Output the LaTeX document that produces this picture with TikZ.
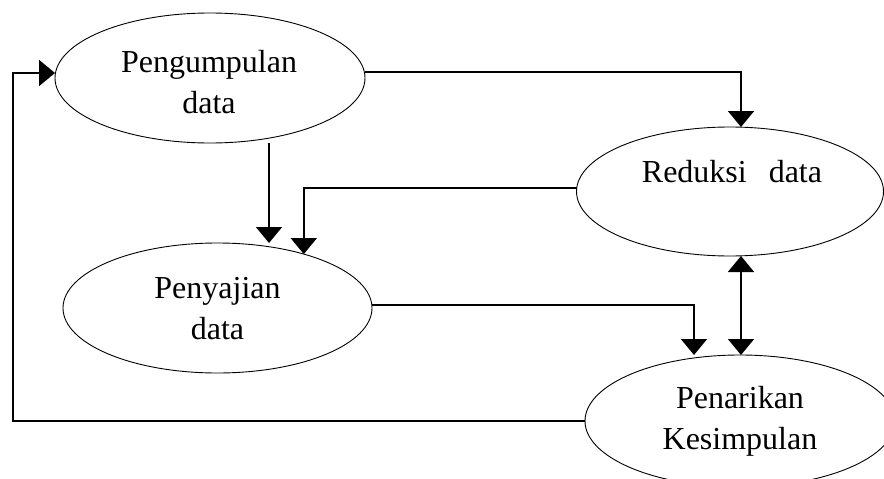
\documentclass[tikz,border=0pt]{standalone}
\usepackage{fontspec}
\setmainfont{Liberation Serif}
\usetikzlibrary{shapes.geometric,arrows.meta}
\begin{document}
\begin{tikzpicture}[x=1pt,y=-1pt,
  ell/.style={draw, ellipse, line width=0.9pt, inner sep=0pt, outer sep=0pt},
  lbl/.style={align=center, inner sep=0pt, font=\fontsize{32}{41}\selectfont},
  conn/.style={line width=1.8pt},
  arr/.style={conn, -{Triangle[width=26pt,length=16pt]}},
  darr/.style={conn, {Triangle[width=26pt,length=16pt]}-{Triangle[width=26pt,length=16pt]}}]
\useasboundingbox (0,0) rectangle (884,479);
\clip (0,0) rectangle (884,479);
% ellipses
\node[ell, minimum width=310pt, minimum height=130pt] (pg) at (210,78) {};
\node[ell, minimum width=307pt, minimum height=129pt] (red) at (730,191.5) {};
\node[ell, minimum width=309pt, minimum height=130pt] (pj) at (217.5,308) {};
\node[ell, minimum width=310pt, minimum height=132pt] (pn) at (740,421) {};
% labels
\node[lbl] (pgt) at (209,82) {Pengumpulan\\data};
\node[lbl] (redt) at (732,172) {Reduksi\hspace{22pt}data};
\node[lbl] (pjt) at (217.5,309) {Penyajian\\data};
\node[lbl] (pnt) at (740,421) {Penarikan\\Kesimpulan};
% helper x positions
\coordinate (xa) at (741,0);
\coordinate (xb) at (269,0);
\coordinate (xc) at (694,0);
\coordinate (xd) at (13,0);
% connectors
\draw[arr] ([yshift=6pt]pg.east) -| (red.north -| xa);
\draw[arr] ([yshift=3.5pt]red.west) -| (pj.32);
\draw[arr] (pg.south -| xb) -- (pj.north -| xb);
\draw[arr] ([yshift=3pt]pj.east) -| (pn.north -| xc);
\draw[darr] (red.south -| xa) -- (pn.north -| xa);
\draw[arr] (pn.west) -- (pn.west -| xd) |- ([yshift=5pt]pg.west);
\end{tikzpicture}
\end{document}
